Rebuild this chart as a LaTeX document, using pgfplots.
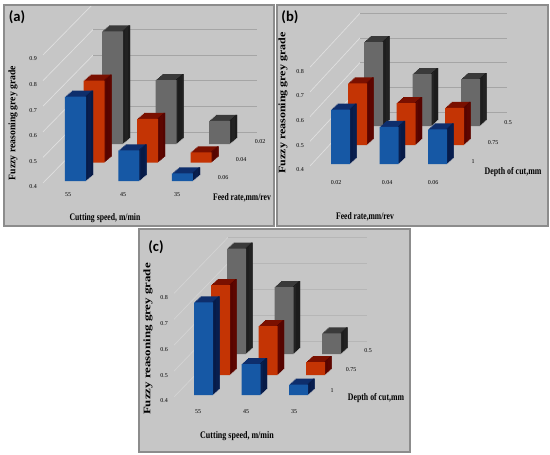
\documentclass[border=0pt]{standalone}
\usepackage{pgfplots}
\pgfplotsset{compat=1.18}
\usepackage{pgfplotstable}
\usepackage{graphicx}
\usepackage{fontspec}
\setmainfont{Liberation Serif}
\newfontfamily\lab{Carlito}

\definecolor{pbg}{RGB}{198,198,198}
\definecolor{pborder}{RGB}{140,140,140}
\definecolor{wallline}{RGB}{224,224,224}
\definecolor{backline}{RGB}{165,165,165}
\definecolor{wallc}{RGB}{212,212,212}
\definecolor{backc}{RGB}{182,182,182}
\definecolor{bF}{RGB}{22,88,165}
\definecolor{bT}{RGB}{14,46,108}
\definecolor{bS}{RGB}{7,26,70}
\definecolor{rF}{RGB}{196,52,4}
\definecolor{rT}{RGB}{122,16,0}
\definecolor{rS}{RGB}{85,4,0}
\definecolor{gF}{RGB}{105,105,105}
\definecolor{gT}{RGB}{58,58,58}
\definecolor{gS}{RGB}{28,28,28}

% ---------- data ----------
% (a) columns: cutting speed 55,45,35 ; rows: feed rate
\pgfplotstableread{
c v
0 0.73
1 0.52
2 0.43
}\tAb % feed 0.06
\pgfplotstableread{
c v
0 0.72
1 0.57
2 0.44
}\tAr % feed 0.04
\pgfplotstableread{
c v
0 0.84
1 0.65
2 0.49
}\tAg % feed 0.02
% (b) columns: feed rate 0.02,0.04,0.06 ; rows: depth of cut
\pgfplotstableread{
c v
0 0.62
1 0.55
2 0.54
}\tBb % depth 1
\pgfplotstableread{
c v
0 0.65
1 0.57
2 0.55
}\tBr % depth 0.75
\pgfplotstableread{
c v
0 0.74
1 0.61
2 0.59
}\tBg % depth 0.5
% (c) columns: cutting speed 55,45,35 ; rows: depth of cut
\pgfplotstableread{
c v
0 0.76
1 0.52
2 0.44
}\tCb % depth 1
\pgfplotstableread{
c v
0 0.75
1 0.59
2 0.45
}\tCr % depth 0.75
\pgfplotstableread{
c v
0 0.81
1 0.66
2 0.48
}\tCg % depth 0.5

\newcommand\setpanel[5]{% #1 px per unit, #2 column spacing px, #3 bar width px, #4 depth dx px, #5 depth dy px
 \pgfmathsetmacro\axw{3*#2*0.75}%
 \pgfmathsetmacro\axh{0.6*#1*0.75}%
 \pgfmathsetmacro\bwpt{#3*0.75}%
 \pgfmathsetmacro\ddx{#4/6}%
 \pgfmathsetmacro\ddy{#5/6}%
 \pgfmathsetmacro\sbw{1.4*#4/6*0.75}%
 \pgfmathsetmacro\sbs{(#3-1.4*#4/6)/2*0.75}}

\pgfplotsset{rowax/.style={scale only axis, hide axis, anchor=south west,
  xmin=-0.5, xmax=2.5, ymin=0.4, ymax=1.0, width=\axw pt, height=\axh pt}}

\newcommand\barrow[6]{% #1 X0 px, #2 Y0 px, #3 table, #4 front, #5 top, #6 side
 \foreach \k in {6,5,4,3,2,1}{%
  \begin{axis}[rowax,at={({(#1+\k*\ddx)*0.75pt},{-(#2-\k*\ddy)*0.75pt})}]
   \addplot[ybar,bar width=\bwpt pt,bar shift=0pt,fill=#5,draw=none] table[x=c,y=v]{#3};
   \addplot[ybar,bar width=\sbw pt,bar shift=\sbs pt,fill=#6,draw=none] table[x=c,y=v]{#3};
  \end{axis}}%
 \begin{axis}[rowax,at={({(#1)*0.75pt},{-(#2)*0.75pt})}]
  \addplot[ybar,bar width=\bwpt pt,bar shift=0pt,fill=#4,draw=none] table[x=c,y=v]{#3};
 \end{axis}}

\begin{document}
\begin{tikzpicture}
\begin{scope}[x=0.75pt,y=-0.75pt,
  tk/.style={font=\fontsize{4.5}{5}\selectfont,inner sep=0pt},
  ttl/.style={font=\bfseries\fontsize{7.5}{8}\selectfont,inner sep=0pt},
  pl/.style={font=\lab\bfseries\fontsize{11}{12}\selectfont,inner sep=0pt}]
\path[use as bounding box,fill=white] (0,0) rectangle (550,454);

% ---------------- panel (a) ----------------
\fill[pbg] (4,5) rectangle (274,226);
\begin{scope}
 \clip (4,5) rectangle (274,226);
 \foreach \i in {0,...,5} \draw[wallline,line width=0.5pt] (43,{183-25.6*\i}) -- (93,{132-25.6*\i});
 \foreach \i in {0,...,4} \draw[backline,line width=0.6pt] (93,{132-25.6*\i}) -- (257,{132-25.6*\i});
\end{scope}
\draw[pborder,line width=0.9pt] (4,5) rectangle (274,226);
\foreach \i/\t in {0/0.4,1/0.5,2/0.6,3/0.7,4/0.8,5/0.9} \node[tk] at (33,{187-25.6*\i}) {\t};
\node[tk] at (68,195) {55};
\node[tk] at (123,195) {45};
\node[tk] at (177,195) {35};
\node[tk] at (260,142) {0.02};
\node[tk] at (241,160) {0.04};
\node[tk] at (223,178) {0.06};
\node[ttl] at (242,198) {\scalebox{0.76}[1]{Feed rate,mm/rev}};
\node[ttl] at (105,218) {\scalebox{0.77}[1]{Cutting speed, m/min}};
\node[ttl,rotate=90] at (13,123) {\scalebox{0.97}[1]{Fuzzy reasoning grey grade}};
\node[pl] at (17,17) {(a)};

% ---------------- panel (b) ----------------
\fill[pbg] (277,5) rectangle (548,226);
\begin{scope}
 \clip (277,5) rectangle (548,226);
 \foreach \i in {0,...,4} \draw[wallline,line width=0.5pt] (310,{166-24.7*\i}) -- (360,{112-24.7*\i});
 \foreach \i in {0,...,4} \draw[backline,line width=0.6pt] (360,{112-24.7*\i}) -- (507,{112-24.7*\i});
\end{scope}
\draw[pborder,line width=0.9pt] (277,5) rectangle (548,226);
\foreach \i/\t in {0/0.4,1/0.5,2/0.6,3/0.7,4/0.8} \node[tk] at (300,{170-24.7*\i}) {\t};
\node[tk] at (336,183) {0.02};
\node[tk] at (387,183) {0.04};
\node[tk] at (433,183) {0.06};
\node[tk] at (508,123) {0.5};
\node[tk] at (493,143) {0.75};
\node[tk] at (473,162) {1};
\node[ttl] at (513,172) {\scalebox{0.79}[1]{Depth of cut,mm}};
\node[ttl] at (365,217) {\scalebox{0.76}[1]{Feed rate,mm/rev}};
\node[ttl,rotate=90] at (283,103) {\scalebox{1.2}[1]{Fuzzy reasoning grey grade}};
\node[pl] at (290,17) {(b)};

% ---------------- panel (c) ----------------
\fill[pbg] (139,229) rectangle (410,452);
\begin{scope}
 \clip (139,229) rectangle (410,452);
 \foreach \i in {0,...,4} \draw[wallc,line width=0.5pt] (174,{397-25.9*\i}) -- (228,{341-25.9*\i});
 \foreach \i in {0,...,4} \draw[backc,line width=0.6pt] (228,{341-25.9*\i}) -- (367,{341-25.9*\i});
\end{scope}
\draw[pborder,line width=0.9pt] (139,229) rectangle (410,452);
\foreach \i/\t in {0/0.4,1/0.5,2/0.6,3/0.7,4/0.8} \node[tk] at (164,{401-25.9*\i}) {\t};
\node[tk] at (198,412) {55};
\node[tk] at (246,412) {45};
\node[tk] at (294,412) {35};
\node[tk] at (368,351) {0.5};
\node[tk] at (351,370) {0.75};
\node[tk] at (332,391) {1};
\node[ttl] at (376,398) {\scalebox{0.78}[1]{Depth of cut,mm}};
\node[ttl] at (237,436) {\scalebox{0.8}[1]{Cutting speed, m/min}};
\node[ttl,rotate=90] at (148,339) {\scalebox{1.29}[1]{Fuzzy reasoning grey grade}};
\node[pl] at (156,247) {(c)};
\end{scope}

% ---------------- bars (a) ----------------
\setpanel{256}{53.5}{21}{7}{6}
\barrow{85.75}{144}{\tAg}{gF}{gT}{gS}
\barrow{67.25}{162.5}{\tAr}{rF}{rT}{rS}
\barrow{48.75}{181}{\tAb}{bF}{bT}{bS}
% ---------------- bars (b) ----------------
\setpanel{247}{48.5}{19}{6.5}{6}
\barrow{349.25}{126}{\tBg}{gF}{gT}{gS}
\barrow{333.25}{145}{\tBr}{rF}{rT}{rS}
\barrow{316.25}{164}{\tBb}{bF}{bT}{bS}
% ---------------- bars (c) ----------------
\setpanel{257}{47.5}{19}{6.5}{6}
\barrow{212.75}{354}{\tCg}{gF}{gT}{gS}
\barrow{196.75}{375}{\tCr}{rF}{rT}{rS}
\barrow{179.75}{395}{\tCb}{bF}{bT}{bS}
\end{tikzpicture}
\end{document}
